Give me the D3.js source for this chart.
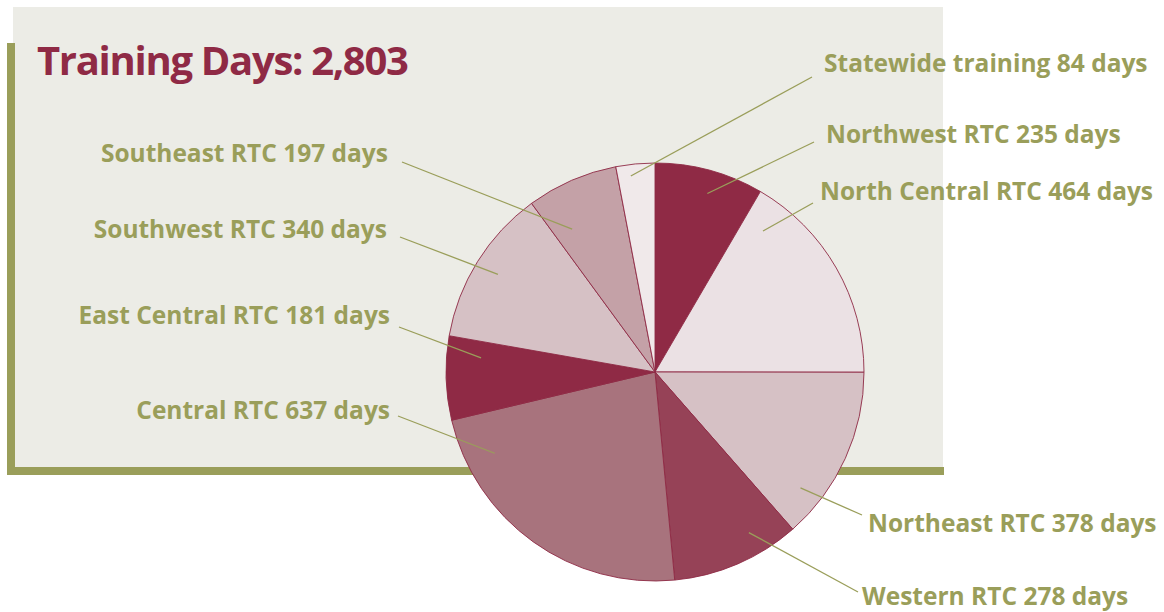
<!DOCTYPE html>
<html>
<head>
<meta charset="utf-8">
<script src="https://cdn.jsdelivr.net/npm/d3@7"></script>
<style>
  html, body { margin: 0; padding: 0; background: #fff; }
  svg { display: block; }
  text { font-family: "Open Sans", sans-serif; font-weight: 700; }
</style>
</head>
<body>
<svg id="chart" width="1164" height="612"></svg>
<script>
// Training days by regional training center, clockwise from 12 o'clock.
const regions = ['Northwest RTC', 'North Central RTC', 'Northeast RTC', 'Western RTC', 'Central RTC',
                 'East Central RTC', 'Southwest RTC', 'Southeast RTC', 'Statewide training'];
const days    = [235, 464, 378, 278, 637, 181, 340, 197, 84];
const totalLabel = '2,803';
const sliceColors = ['#8f2a45', '#ebe1e4', '#d6c1c5', '#964257', '#a8737d',
                     '#8f2a45', '#d6c1c5', '#c4a1a7', '#f0e9ea'];

// label layout: text anchor point, leader start, where in the slice the leader ends (angle fraction, radius fraction)
const labelSide  = ['right', 'right', 'right', 'right', 'left', 'left', 'left', 'left', 'right'];
const labelPos   = [[826, 143], [820, 200], [868, 532], [862, 605], [390, 419], [390, 324], [387, 238], [388, 162], [824, 72]];
const leaderFrom = [[814, 142], [813, 203], [862, 515], [858, 592], [398, 416], [399, 327], [400, 237], [402, 162], [812, 77]];
const leaderTo   = [[0.54, 0.89], [0.12, 0.85], [0.79, 0.89], [0.305, 0.89], [0.835, 0.86], [0.77, 0.835], [0.50, 0.885], [0.24, 0.79], [0.35, 0.945]];

const OLIVE = '#9a9e5a';
const MAROON = '#8f2a45';
const cx = 655, cy = 372, R = 209;

const svg = d3.select('#chart');

// panel + frame
svg.append('rect').attr('x', 13).attr('y', 7).attr('width', 930).attr('height', 462).attr('fill', '#ececE6');
svg.append('rect').attr('x', 7).attr('y', 43).attr('width', 8).attr('height', 432).attr('fill', OLIVE);
svg.append('rect').attr('x', 7).attr('y', 467).attr('width', 937).attr('height', 8).attr('fill', OLIVE);

svg.append('text').attr('x', 37).attr('y', 75)
  .attr('fill', MAROON).style('font-size', '40px').style('letter-spacing', '-1.3px')
  .text(`Training Days: ${totalLabel}`);

const items = regions.map((name, i) => ({ name, value: days[i], i }));
const pie = d3.pie().value(d => d.value).sort(null);
const arcs = pie(items);
const arc = d3.arc().innerRadius(0).outerRadius(R);

const g = svg.append('g').attr('transform', `translate(${cx},${cy})`);
g.selectAll('path').data(arcs).enter().append('path')
  .attr('d', arc)
  .attr('fill', d => sliceColors[d.data.i])
  .attr('stroke', MAROON).attr('stroke-width', 0.9);

// leaders
arcs.forEach(d => {
  const i = d.data.i;
  const [fa, fr] = leaderTo[i];
  const a = d.startAngle + fa * (d.endAngle - d.startAngle);
  const r = fr * R;
  const x2 = cx + r * Math.sin(a), y2 = cy - r * Math.cos(a);
  svg.append('line')
    .attr('x1', leaderFrom[i][0]).attr('y1', leaderFrom[i][1])
    .attr('x2', x2).attr('y2', y2)
    .attr('stroke', OLIVE).attr('stroke-width', 1.3);
});

// labels
arcs.forEach(d => {
  const i = d.data.i;
  svg.append('text')
    .attr('x', labelPos[i][0]).attr('y', labelPos[i][1])
    .attr('text-anchor', labelSide[i] === 'left' ? 'end' : 'start')
    .attr('fill', OLIVE).style('font-size', '24.5px')
    .text(`${d.data.name} ${d.data.value} days`);
});
</script>
</body>
</html>
